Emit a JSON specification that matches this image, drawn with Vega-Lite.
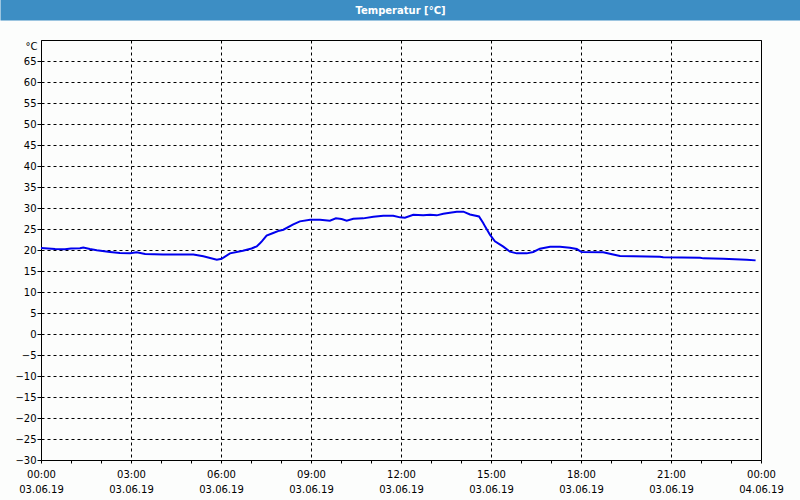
{
  "$schema": "https://vega.github.io/schema/vega-lite/v6.json",
  "background": "#fcfdfc",
  "autosize": {"type": "none"},
  "padding": {"left": 41, "top": 40, "right": 39, "bottom": 40},
  "width": 720,
  "height": 420,
  "config": {"font": "DejaVu Sans", "view": {"stroke": "black", "strokeWidth": 1}},
  "data": {"values": [
    {"h": 0.00, "temp": 20.45}, {"h": 0.47, "temp": 20.25}, {"h": 0.80, "temp": 20.2},
    {"h": 1.00, "temp": 20.35}, {"h": 1.30, "temp": 20.4}, {"h": 1.41, "temp": 20.6},
    {"h": 1.63, "temp": 20.25}, {"h": 1.86, "temp": 19.95}, {"h": 2.30, "temp": 19.55},
    {"h": 2.63, "temp": 19.3}, {"h": 2.97, "temp": 19.2}, {"h": 3.19, "temp": 19.45},
    {"h": 3.47, "temp": 19.05}, {"h": 4.07, "temp": 18.95}, {"h": 5.08, "temp": 18.95},
    {"h": 5.41, "temp": 18.5}, {"h": 5.86, "temp": 17.7}, {"h": 6.02, "temp": 17.9},
    {"h": 6.30, "temp": 19.2}, {"h": 6.73, "temp": 19.8}, {"h": 7.02, "temp": 20.35},
    {"h": 7.19, "temp": 20.86}, {"h": 7.30, "temp": 21.6}, {"h": 7.36, "temp": 22.06},
    {"h": 7.52, "temp": 23.45}, {"h": 7.74, "temp": 24.04}, {"h": 7.94, "temp": 24.6},
    {"h": 8.08, "temp": 24.83}, {"h": 8.41, "temp": 26.1}, {"h": 8.63, "temp": 26.82},
    {"h": 8.97, "temp": 27.21}, {"h": 9.30, "temp": 27.21}, {"h": 9.63, "temp": 26.98},
    {"h": 9.83, "temp": 27.53}, {"h": 10.02, "temp": 27.38}, {"h": 10.19, "temp": 26.98},
    {"h": 10.41, "temp": 27.45}, {"h": 10.74, "temp": 27.53}, {"h": 11.08, "temp": 27.93},
    {"h": 11.41, "temp": 28.17}, {"h": 11.74, "temp": 28.17}, {"h": 11.97, "temp": 27.77},
    {"h": 12.13, "temp": 27.69}, {"h": 12.41, "temp": 28.4}, {"h": 12.74, "temp": 28.25},
    {"h": 12.97, "temp": 28.4}, {"h": 13.19, "temp": 28.25}, {"h": 13.41, "temp": 28.65},
    {"h": 13.63, "temp": 28.89}, {"h": 13.86, "temp": 29.12}, {"h": 14.08, "temp": 29.12},
    {"h": 14.30, "temp": 28.45}, {"h": 14.60, "temp": 28.0}, {"h": 14.74, "temp": 26.43},
    {"h": 14.80, "temp": 25.63}, {"h": 14.97, "temp": 23.59}, {"h": 15.13, "temp": 22.06},
    {"h": 15.41, "temp": 20.8}, {"h": 15.63, "temp": 19.6}, {"h": 15.86, "temp": 19.2},
    {"h": 16.19, "temp": 19.2}, {"h": 16.41, "temp": 19.52}, {"h": 16.63, "temp": 20.31},
    {"h": 16.97, "temp": 20.79}, {"h": 17.30, "temp": 20.79}, {"h": 17.63, "temp": 20.55},
    {"h": 17.86, "temp": 20.23}, {"h": 18.02, "temp": 19.52}, {"h": 18.74, "temp": 19.44},
    {"h": 19.30, "temp": 18.56}, {"h": 20.63, "temp": 18.4}, {"h": 20.74, "temp": 18.25},
    {"h": 21.97, "temp": 18.17}, {"h": 22.08, "temp": 18.01}, {"h": 22.74, "temp": 17.93},
    {"h": 23.52, "temp": 17.69}, {"h": 23.82, "temp": 17.53}
  ]},
  "layer": [
    {
      "mark": {"type": "line", "color": "#0000ee", "strokeWidth": 2},
      "encoding": {
        "x": {
          "field": "h",
          "type": "quantitative",
          "scale": {"domain": [0, 24], "nice": false, "zero": false},
          "axis": {
            "title": null,
            "values": [0, 1, 2, 3, 4, 5, 6, 7, 8, 9, 10, 11, 12, 13, 14, 15, 16, 17, 18, 19, 20, 21, 22, 23, 24],
            "labelExpr": "datum.value % 3 == 0 ? [(datum.value % 24 < 10 ? '0' : '') + (datum.value % 24) + ':00', datum.value == 24 ? '04.06.19' : '03.06.19'] : ''",
            "labelOverlap": false,
            "labelFlush": false,
            "labelFont": "DejaVu Sans",
            "labelFontSize": 10,
            "labelColor": "black",
            "labelBaseline": "top",
            "labelPadding": 6,
            "labelLineHeight": 15,
            "domain": false,
            "tickColor": "black",
            "tickSize": 3,
            "grid": true,
            "gridColor": "black",
            "gridDash": [3, 3],
            "gridWidth": 1,
            "gridOpacity": {"condition": {"test": "datum.value % 3 != 0", "value": 0}, "value": 1}
          }
        },
        "y": {
          "field": "temp",
          "type": "quantitative",
          "scale": {"domain": [-30, 70], "nice": false, "zero": false},
          "axis": {
            "values": [-30, -25, -20, -15, -10, -5, 0, 5, 10, 15, 20, 25, 30, 35, 40, 45, 50, 55, 60, 65],
            "labelOverlap": false,
            "labelFont": "DejaVu Sans",
            "labelFontSize": 10,
            "labelColor": "black",
            "labelPadding": 1,
            "labelBaseline": "middle",
            "domain": false,
            "tickColor": "black",
            "tickSize": 4,
            "grid": true,
            "gridColor": "black",
            "gridDash": [3, 3],
            "gridWidth": 1,
            "title": "°C",
            "titleColor": "black",
            "titleFont": "DejaVu Sans",
            "titleFontSize": 10,
            "titleFontWeight": "normal",
            "titleAngle": 0,
            "titleAlign": "right",
            "titleBaseline": "top",
            "titleX": -4,
            "titleY": 1
          }
        }
      }
    },
    {
      "mark": {"type": "line", "opacity": 0},
      "encoding": {
        "x": {
          "field": "h",
          "type": "quantitative",
          "axis": {
            "orient": "top",
            "offset": 61,
            "values": [0, 24],
            "labels": false,
            "ticks": false,
            "grid": false,
            "domain": true,
            "domainColor": "#3d8ec4",
            "domainWidth": 82,
            "domainCap": "square",
            "title": "Temperatur [°C]",
            "titleColor": "white",
            "titleFont": "DejaVu Sans",
            "titleFontSize": 10,
            "titleFontWeight": "bold",
            "titleAngle": 0,
            "titleAlign": "center",
            "titleBaseline": "middle",
            "titleX": 359,
            "titleY": 31
          }
        },
        "y": {"field": "temp", "type": "quantitative", "axis": null}
      }
    }
  ],
  "resolve": {"axis": {"x": "independent", "y": "independent"}}
}
